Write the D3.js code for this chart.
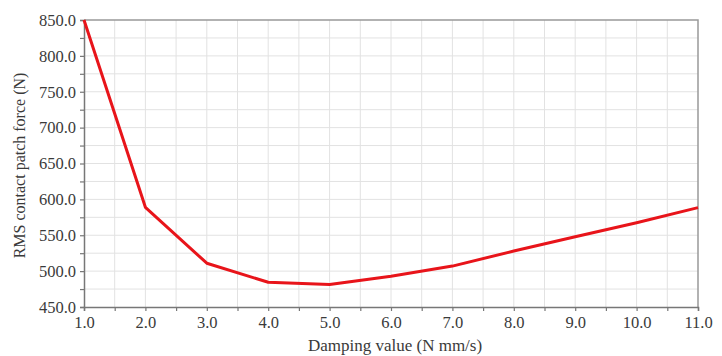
<!DOCTYPE html>
<html>
<head>
<meta charset="utf-8">
<script src="https://cdn.jsdelivr.net/npm/d3@7"></script>
<style>
  body { margin: 0; background: #fff; }
  text { font-family: "Liberation Serif", "DejaVu Serif", serif; }
</style>
</head>
<body>
<div id="chart"></div>
<script>
// Data
const damping = [1, 2, 3, 4, 5, 6, 7, 8, 9, 10, 11];
const rmsForce = [850, 589, 511, 484.5, 481.5, 493, 507, 528, 548, 567.5, 588.5];
const xTicks = [1, 2, 3, 4, 5, 6, 7, 8, 9, 10, 11];
const yTicks = [450, 500, 550, 600, 650, 700, 750, 800, 850];

const W = 722, H = 356;
const MARGIN = { top: 20, right: 24, bottom: 49, left: 84 };

const svg = d3.select("#chart").append("svg")
  .attr("width", W).attr("height", H);

const x = d3.scaleLinear().domain([1, 11]).range([MARGIN.left, W - MARGIN.right]);
const y = d3.scaleLinear().domain([450, 850]).range([H - MARGIN.bottom, MARGIN.top]);

// Grid (every half unit / every 25 N)
const xGrid = d3.range(1.5, 11, 0.5);
const yGrid = d3.range(475, 850, 25);

svg.append("g").selectAll("line").data(xGrid).join("line")
  .attr("x1", d => x(d)).attr("x2", d => x(d))
  .attr("y1", y(850)).attr("y2", y(450))
  .attr("stroke", "#e2e2e2").attr("stroke-width", 1);

svg.append("g").selectAll("line").data(yGrid).join("line")
  .attr("y1", d => y(d)).attr("y2", d => y(d))
  .attr("x1", x(1)).attr("x2", x(11))
  .attr("stroke", "#e2e2e2").attr("stroke-width", 1);

// Frame top/right
svg.append("path")
  .attr("d", `M${x(1)},${y(850)}H${x(11)}V${y(450)}`)
  .attr("fill", "none").attr("stroke", "#999").attr("stroke-width", 1.5);

// Axes
const xAxis = d3.axisBottom(x)
  .tickValues(d3.range(1, 11.01, 0.5))
  .tickSize(4).tickPadding(5)
  .tickFormat(d => Number.isInteger(d) ? d.toFixed(1) : "");

const yAxis = d3.axisLeft(y)
  .tickValues(d3.range(450, 851, 25))
  .tickSize(4).tickPadding(4)
  .tickFormat(d => d % 50 === 0 ? d.toFixed(1) : "");

const gx = svg.append("g")
  .attr("transform", `translate(0,${y(450)})`)
  .call(xAxis);
const gy = svg.append("g")
  .attr("transform", `translate(${x(1)},0)`)
  .call(yAxis);

[gx, gy].forEach(g => {
  g.select(".domain").attr("stroke", "#777").attr("stroke-width", 1.5);
  g.selectAll(".tick line").attr("stroke", "#777").attr("stroke-width", 1.2);
  g.selectAll(".tick text")
    .attr("fill", "#3a3a3a")
    .attr("font-size", "16.5px")
    .style("font-family", "'Liberation Serif', serif");
});

// Axis titles
svg.append("text")
  .attr("x", (x(1) + x(11)) / 2 + 4)
  .attr("y", H - 5)
  .attr("text-anchor", "middle")
  .attr("font-size", "17px")
  .attr("fill", "#3a3a3a")
  .text("Damping value (N mm/s)");

svg.append("text")
  .attr("transform", `translate(25,${(y(450) + y(850)) / 2 + 2}) rotate(-90)`)
  .attr("text-anchor", "middle")
  .attr("font-size", "16px")
  .attr("fill", "#3a3a3a")
  .text("RMS contact patch force (N)");

// Line
const line = d3.line()
  .x((d, i) => x(damping[i]))
  .y(d => y(d));

svg.append("path")
  .datum(rmsForce)
  .attr("d", line)
  .attr("fill", "none")
  .attr("stroke", "#e8141a")
  .attr("stroke-width", 3)
  .attr("stroke-linejoin", "round");
</script>
</body>
</html>
